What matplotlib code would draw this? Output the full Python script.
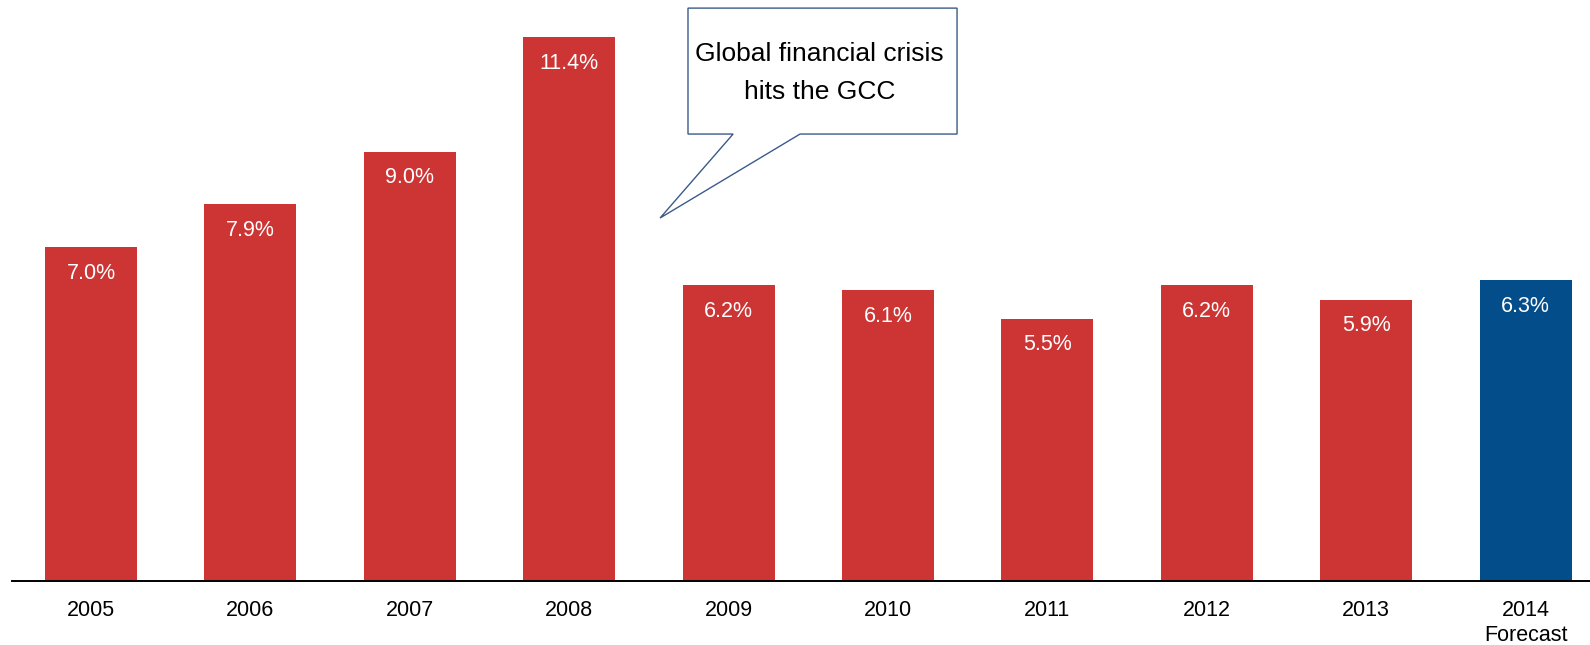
import matplotlib.pyplot as plt
from matplotlib.patches import Polygon

years = ["2005", "2006", "2007", "2008", "2009", "2010", "2011", "2012", "2013", "2014\nForecast"]
growth = [7.0, 7.9, 9.0, 11.4, 6.2, 6.1, 5.5, 6.2, 5.9, 6.3]
is_forecast = [False] * 9 + [True]

red = "#CD3434"
blue = "#034D8B"

plt.rcParams['font.family'] = ['Liberation Sans', 'DejaVu Sans']

fig = plt.figure(figsize=(15.9, 6.45), dpi=100)
ax = fig.add_axes([12 / 1590, 64 / 645, 1578 / 1590, 581 / 645])

x = list(range(len(years)))
colors = [blue if f else red for f in is_forecast]
ax.bar(x, growth, width=0.577, color=colors)

for xi, v in zip(x, growth):
    ax.text(xi, v - 0.55, f"{v:.1f}%", ha='center', va='center',
            color='white', fontsize=15.5)

ax.set_xlim(-0.496, 9.404)
ax.set_ylim(0, 12.18)
ax.set_xticks(x)
ax.set_xticklabels(years, fontsize=15.5, linespacing=1.25)
ax.tick_params(axis='x', length=0, pad=14)
ax.set_yticks([])
for s in ['top', 'right', 'left']:
    ax.spines[s].set_visible(False)
ax.spines['bottom'].set_linewidth(1.4)

# speech-bubble callout pointing at the 2008 peak
bubble = [(3.745, 12.01), (5.433, 12.01), (5.433, 9.37), (4.448, 9.37),
          (3.57, 7.61), (4.028, 9.37), (3.745, 9.37)]
ax.add_patch(Polygon(bubble, closed=True, facecolor='white',
                     edgecolor='#3B5A8A', linewidth=1.0, clip_on=False))
ax.text(4.57, 10.65, "Global financial crisis\nhits the GCC", ha='center',
        va='center', fontsize=19, linespacing=1.72)

fig.savefig("out.png", dpi=100)
